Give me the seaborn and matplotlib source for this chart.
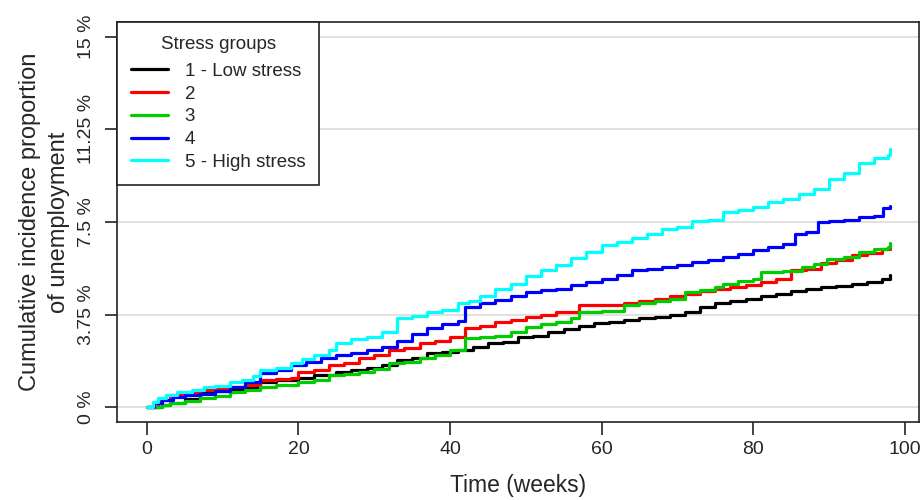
import pandas as pd
import matplotlib.pyplot as plt
import seaborn as sns

# --- Données (incidence cumulée en %) ---
groupes = ["1 - Low stress", "2", "3", "4", "5 - High stress"]
couleurs = ["#000000", "#FF0000", "#00CD00", "#0000FF", "#00FFFF"]

t1 = [0, 2, 3, 5, 7, 9, 11, 13, 15, 17, 20, 22, 25, 27, 29, 31, 33, 35, 37, 39, 41, 43, 45, 47, 49,
      51, 53, 55, 57, 59, 61, 63, 65, 67, 69, 71, 73, 75, 77, 79, 81, 83, 85, 87, 89, 91, 93, 95, 97, 98]
v1 = [0, 0.1, 0.16, 0.35, 0.56, 0.65, 0.72, 0.8, 1.0, 1.1, 1.2, 1.3, 1.42, 1.5, 1.58, 1.7, 1.9, 2.0,
      2.18, 2.25, 2.3, 2.45, 2.6, 2.63, 2.83, 2.9, 3.03, 3.15, 3.3, 3.4, 3.45, 3.52, 3.6, 3.65, 3.72,
      3.84, 4.04, 4.2, 4.3, 4.4, 4.5, 4.6, 4.7, 4.8, 4.85, 4.9, 5.0, 5.05, 5.2, 5.34]

t2 = [0, 1.5, 3, 5, 7, 9, 11, 13, 15, 17, 19, 20, 22, 24, 26, 28, 30, 32, 34, 36, 38, 40, 42, 44, 46,
      48, 50, 52, 54, 57, 60, 63, 65, 67, 69, 71, 73, 75, 77, 79, 81, 83, 85, 87, 89, 91, 93, 95, 97, 98]
v2 = [0, 0.3, 0.48, 0.6, 0.69, 0.72, 0.8, 0.9, 1.09, 1.15, 1.2, 1.42, 1.5, 1.7, 1.8, 2.0, 2.1, 2.3,
      2.4, 2.6, 2.7, 2.85, 3.2, 3.3, 3.44, 3.55, 3.64, 3.75, 3.85, 4.12, 4.15, 4.2, 4.3, 4.4, 4.5,
      4.6, 4.7, 4.77, 4.85, 4.95, 5.05, 5.2, 5.54, 5.6, 5.82, 5.95, 6.15, 6.25, 6.4, 6.47]

t3 = [0, 2, 3, 5, 7, 9, 11, 13, 15, 17, 20, 22, 24, 26, 28, 30, 32, 34, 36, 38, 40, 42, 44, 46, 48,
      50, 52, 54, 56, 57, 60, 63, 65, 67, 69, 71, 73, 75, 76, 78, 80, 81, 84, 86.5, 88, 89.7, 92, 94,
      96, 97.8, 98]
v3 = [0, 0.1, 0.16, 0.25, 0.36, 0.45, 0.6, 0.7, 0.8, 0.9, 1.0, 1.1, 1.3, 1.35, 1.42, 1.55, 1.78,
      1.85, 2.0, 2.1, 2.3, 2.79, 2.85, 2.9, 3.05, 3.23, 3.35, 3.44, 3.6, 3.84, 3.9, 4.12, 4.2, 4.29,
      4.4, 4.65, 4.75, 4.85, 5.0, 5.1, 5.2, 5.46, 5.5, 5.66, 5.8, 6.0, 6.1, 6.27, 6.4, 6.5, 6.63]

t4 = [0, 1, 2, 3.5, 5, 7, 9, 11, 13, 15, 17, 19, 21, 23, 25, 27, 29, 31, 33, 35, 37, 39, 41, 42, 44,
      46, 48, 50, 52, 54, 56, 58, 60, 62, 64, 66, 68, 70, 72, 74, 76, 78, 80, 82, 84, 85.5, 87, 88.5,
      90, 92, 94, 96, 97.2, 98]
v4 = [0, 0.15, 0.28, 0.4, 0.5, 0.55, 0.65, 0.8, 1.0, 1.37, 1.5, 1.7, 1.85, 1.98, 2.1, 2.2, 2.3, 2.45,
      2.7, 2.95, 3.2, 3.35, 3.5, 4.04, 4.2, 4.33, 4.5, 4.65, 4.75, 4.8, 4.95, 5.05, 5.2, 5.35, 5.55,
      5.6, 5.66, 5.75, 5.86, 5.95, 6.1, 6.2, 6.35, 6.5, 6.6, 7.0, 7.1, 7.5, 7.55, 7.6, 7.7, 7.76,
      8.05, 8.13]

t5 = [0, 0.8, 1.5, 2.5, 4, 6, 7.5, 9, 11, 12.5, 14, 15, 17, 19, 20.5, 22, 24, 25, 27, 29, 31, 33, 35,
      37, 39, 41, 42.5, 44, 46, 48, 50, 52, 54, 56, 58, 60, 62, 64, 66, 68, 70, 72, 74, 76, 78, 80,
      82, 84, 86, 88, 90, 92, 94, 96, 97.8, 98]
v5 = [0, 0.2, 0.36, 0.5, 0.6, 0.7, 0.8, 0.85, 1.0, 1.1, 1.25, 1.5, 1.6, 1.78, 1.95, 2.1, 2.3, 2.6,
      2.75, 2.85, 3.05, 3.6, 3.7, 3.84, 3.95, 4.2, 4.3, 4.5, 4.8, 5.0, 5.3, 5.55, 5.75, 6.05, 6.3,
      6.55, 6.7, 6.85, 7.0, 7.2, 7.3, 7.55, 7.6, 7.9, 8.0, 8.1, 8.3, 8.45, 8.65, 8.85, 9.25, 9.5,
      9.9, 10.1, 10.2, 10.45]

y_ticks = [0, 3.75, 7.5, 11.25, 15]
y_labels = ["0 %", "3.75 %", "7.5 %", "11.25 %", "15 %"]
x_ticks = [0, 20, 40, 60, 80, 100]

# Tableau long pour seaborn
frames = []
for nom, t, v in zip(groupes, [t1, t2, t3, t4, t5], [v1, v2, v3, v4, v5]):
    frames.append(pd.DataFrame({"temps": t, "incidence": v, "groupe": nom}))
df = pd.concat(frames, ignore_index=True)

sns.set_theme(style="white")
plt.rcParams["font.family"] = ["Liberation Sans", "DejaVu Sans"]

fig = plt.figure(figsize=(9.22, 5), dpi=100)
ax = fig.add_axes([0.127, 0.156, 0.87, 0.8])

# Grille horizontale grise
for yt in y_ticks:
    ax.axhline(yt, color="#dcdcdc", lw=1.2, zorder=0)

sns.lineplot(data=df, x="temps", y="incidence", hue="groupe", hue_order=groupes,
             palette=couleurs, estimator=None, drawstyle="steps-post", linewidth=2.3,
             legend=False, ax=ax)

ax.set_xlim(-3.92, 101.92)
ax.set_ylim(-0.6, 15.6)
ax.set_xticks(x_ticks)
ax.set_xticklabels([str(x) for x in x_ticks], fontsize=14)
ax.set_yticks(y_ticks)
ax.set_yticklabels(y_labels, fontsize=14, rotation=90, va="center")
ax.tick_params(axis="both", direction="out", length=9, width=1.2, color="#222222",
               left=True, bottom=True, pad=5)
ax.tick_params(axis="y", pad=7)
for sp in ax.spines.values():
    sp.set_color("#222222")
    sp.set_linewidth(1.2)

ax.set_xlabel("Time (weeks)", fontsize=16.5, labelpad=11)
ax.set_ylabel("Cumulative incidence proportion\nof unemployment", fontsize=17, labelpad=6,
              linespacing=1.4)

# Légende encadrée en haut à gauche
handles = [plt.Line2D([], [], color=c, lw=2.3) for c in couleurs]
leg = ax.legend(handles, groupes, title="Stress groups", loc="upper left",
                bbox_to_anchor=(0, 1), borderaxespad=0, fontsize=13.5, title_fontsize=13.5,
                frameon=True, fancybox=False, handlelength=1.95, handletextpad=0.9,
                labelspacing=0.3, borderpad=0.75)
leg._legend_box.sep = 7
leg.get_frame().set_edgecolor("#222222")
leg.get_frame().set_linewidth(1.2)
leg.get_frame().set_alpha(1)

fig.savefig("out.png", dpi=100)
